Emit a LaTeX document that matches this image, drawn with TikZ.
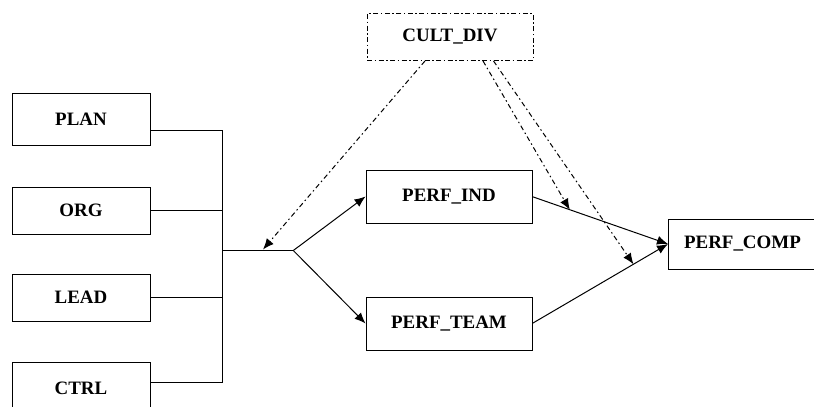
\documentclass[tikz,border=0pt]{standalone}
\usepackage{fontspec}
\setmainfont{Liberation Serif}
\usetikzlibrary{arrows.meta}
\begin{document}
\begin{tikzpicture}[x=1bp,y=-1bp,
  box/.style={draw, line width=0.9bp, minimum height=52bp, inner sep=0pt,
              font=\fontsize{19}{22}\selectfont\bfseries},
  dbox/.style={box, dash pattern=on 5bp off 2.5bp on 1.5bp off 2.5bp},
  link/.style={line width=1bp},
  arr/.style={link, -{Latex[length=11bp,width=9bp]}},
  dd/.style={line width=1bp, dash pattern=on 5bp off 3bp on 1.5bp off 3bp,
             -{Latex[length=11bp,width=9bp]}}
]
\useasboundingbox (0,0) rectangle (814,406);

% input boxes on the left
\node[box, minimum width=138bp] (plan) at (81,119.5) {PLAN};
\node[box, minimum width=138bp, minimum height=47bp] (org)  at (81,210.5) {ORG};
\node[box, minimum width=138bp, minimum height=47bp] (lead) at (81,297.5) {LEAD};
\node[box, minimum width=138bp] (ctrl) at (81,388) {CTRL};

% middle and right boxes
\node[box, minimum width=166bp, minimum height=53bp] (ind)  at (449,196.5) {PERF\_IND};
\node[box, minimum width=166bp, minimum height=53bp] (team) at (449,323.5) {PERF\_TEAM};
\node[dbox, minimum width=166bp, minimum height=47bp] (cult) at (450,37) {CULT\_DIV};
\node[box, minimum width=148bp, minimum height=50bp, anchor=west] (comp) at (668,244) {PERF\_COMP};

% collecting bus
\coordinate (busT) at (222,130);
\coordinate (busB) at (222,382);
\coordinate (busM) at (222,250.5);
\coordinate (fork) at (293.3,250.5);
\draw[link] (plan.east |- busT) -- (busT) -- (busB) -- (ctrl.east |- busB);
\draw[link] (org.east) -- (org.east -| busT);
\draw[link] (lead.east) -- (lead.east -| busT);
\draw[link] (busM) -- (fork);
\coordinate (trunkhit) at (263,249.5);

% branches to the performance boxes
\draw[arr] (fork) -- (ind.west);
\draw[arr] (fork) -- (team.west);

% into the company performance
\coordinate (indout) at (532.5,196.7);
\coordinate (teamout) at (532.5,323.3);
\coordinate (compin) at (668,244);
\draw[arr] (indout) -- (compin);
\draw[arr] (teamout) -- (compin);
\path (indout) -- (compin) coordinate[pos=0.275] (hit1);
\path (teamout) -- (compin) coordinate[pos=0.745] (hit2);

% moderating links from the culture box
\draw[dd] (cult.south -| 425,0) -- (trunkhit);
\draw[dd] (cult.south -| 483,0) -- (hit1);
\draw[dd] (cult.south -| 493.5,0) -- (hit2);
\end{tikzpicture}
\end{document}
